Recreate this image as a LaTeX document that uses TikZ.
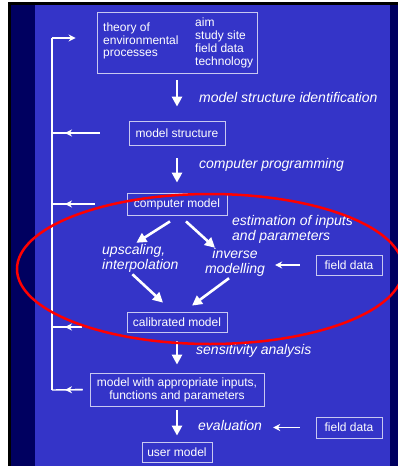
\documentclass[tikz,border=0pt]{standalone}
\usepackage{fontspec}
\setmainfont{Liberation Sans}
\usetikzlibrary{arrows.meta}
\usetikzlibrary{positioning}

\definecolor{slideblue}{HTML}{3434C8}
\definecolor{navy}{HTML}{000060}
\definecolor{boxline}{HTML}{C8C8F0}

\begin{document}
\begin{tikzpicture}[x=1pt, y=-1pt,
  box/.style={draw=boxline, line width=0.8pt, text=white, inner sep=0pt, align=center, font=\fontsize{12}{13}\selectfont},
  lbl/.style={text=white, inner sep=0pt, align=left, font=\fontsize{14}{15}\selectfont\itshape},
  bigarrow/.style={white, line width=2.6pt, -{Triangle[length=10pt,width=10pt]}},
  thinarrow/.style={white, line width=1.4pt, -{Stealth[length=7pt,width=7pt]}},
  fbline/.style={white, line width=1.4pt}]
\useasboundingbox (0,0) rectangle (398,466);

% slide background
\fill[white] (0,0) rectangle (398,466);
\fill[black] (8,2) rectangle (398,466);
\fill[navy] (11,5) rectangle (398,466);
\fill[slideblue] (35,5) rectangle (390,466);

% boxes
\node[box, minimum width=160pt, minimum height=61pt] (TopBox) at (177,42.5) {};
\node[text=white, inner sep=0pt, align=left, anchor=west, font=\fontsize{12}{12.8}\selectfont] (Theory) at (103,41) {theory of\\environmental\\processes};
\node[text=white, inner sep=0pt, align=left, anchor=west, font=\fontsize{12}{12.8}\selectfont] (Aims) at (195,43) {aim\\study site\\field data\\technology};
\node[box, minimum width=96pt, minimum height=24pt] (ModelStruct) at (177,133) {model structure};
\node[box, minimum width=100pt, minimum height=22pt] (CompModel) at (177,204) {computer model};
\node[box, minimum width=100pt, minimum height=20pt] (CalibModel) at (177,322) {calibrated model};
\node[box, minimum width=174pt, minimum height=33pt] (ModelWith) at (177,389.5) {model with appropriate inputs,\\functions and parameters};
\node[box, minimum width=70pt, minimum height=20pt] (UserModel) at (177,452) {user model};
\node[box, minimum width=66pt, minimum height=20pt] (FieldDataA) at (349,265) {field data};
\node[box, minimum width=66pt, minimum height=21pt] (FieldDataB) at (349,427.5) {field data};

% labels
\node[lbl, anchor=west] (StructId) at (199,97) {model structure identification};
\node[lbl, anchor=west] (CompProg) at (199,165) {computer programming};
\node[lbl, anchor=west] (Estim) at (232,229.5) {estimation of inputs\\and parameters};
\node[lbl, anchor=west] (Upscale) at (102,258) {upscaling,\\interpolation};
\node[lbl, align=center] (Inverse) at (235,262) {inverse\\modelling};
\node[lbl, anchor=west] (Sensit) at (196,351) {sensitivity analysis};
\node[lbl, anchor=west] (Evalu) at (198,425) {evaluation};

% main flow
\draw[bigarrow, shorten <=7pt, shorten >=14pt] (TopBox.south) -- (ModelStruct.north);
\draw[bigarrow, shorten <=13pt, shorten >=10pt] (ModelStruct.south) -- (CompModel.north);
\draw[bigarrow] ([xshift=-7pt,yshift=-6pt]CompModel.south) -- ([xshift=-4pt,yshift=1pt]Upscale.north);
\draw[bigarrow] ([xshift=9pt,yshift=-6pt]CompModel.south) -- ([xshift=-20pt]Inverse.north);
\draw[bigarrow] ([xshift=-8pt,yshift=-2pt]Upscale.south) -- ([xshift=-14pt,yshift=9pt]CalibModel.north);
\draw[bigarrow] ([xshift=-6pt,yshift=-2pt]Inverse.south) -- ([xshift=15pt,yshift=6pt]CalibModel.north);
\draw[bigarrow, shorten <=9pt, shorten >=8pt] (CalibModel.south) -- (ModelWith.north);
\draw[bigarrow, shorten <=4pt, shorten >=6pt] (ModelWith.south) -- (UserModel.north);

% field data inputs
\draw[thinarrow, shorten <=16pt, shorten >=10pt] (FieldDataA.west) -- (FieldDataA.west -| Inverse.east);
\draw[thinarrow, shorten <=16pt, shorten >=11pt] (FieldDataB.west) -- (FieldDataB.west -| Evalu.east);

% feedback loop
\coordinate (FbTop) at (52,38);
\coordinate (FbBot) at (52,390);
\draw[fbline] (FbBot) -- (FbTop);
\draw[thinarrow, shorten >=21pt] (FbTop) -- (FbTop -| TopBox.west);
\draw[fbline, shorten <=29pt] (ModelStruct.west) -- (ModelStruct.west -| FbTop);
\draw[thinarrow, shorten <=29pt, shorten >=13pt] (ModelStruct.west) -- (ModelStruct.west -| FbTop);
\draw[fbline, shorten <=32pt] (CompModel.west) -- (CompModel.west -| FbTop);
\draw[thinarrow, shorten <=32pt, shorten >=13pt] (CompModel.west) -- (CompModel.west -| FbTop);
\draw[fbline, shorten <=45pt] ([yshift=-5pt]CalibModel.west) -- ([yshift=-5pt]CalibModel.west -| FbTop);
\draw[thinarrow, shorten <=45pt, shorten >=13pt] ([yshift=-5pt]CalibModel.west) -- ([yshift=-5pt]CalibModel.west -| FbTop);
\draw[fbline, shorten <=7pt] (ModelWith.west) -- (FbBot);
\draw[thinarrow, shorten <=7pt, shorten >=13pt] (ModelWith.west) -- (FbBot);

% highlight
\draw[red, line width=2.5pt] (210,269) ellipse [x radius=193, y radius=75];
\end{tikzpicture}
\end{document}
